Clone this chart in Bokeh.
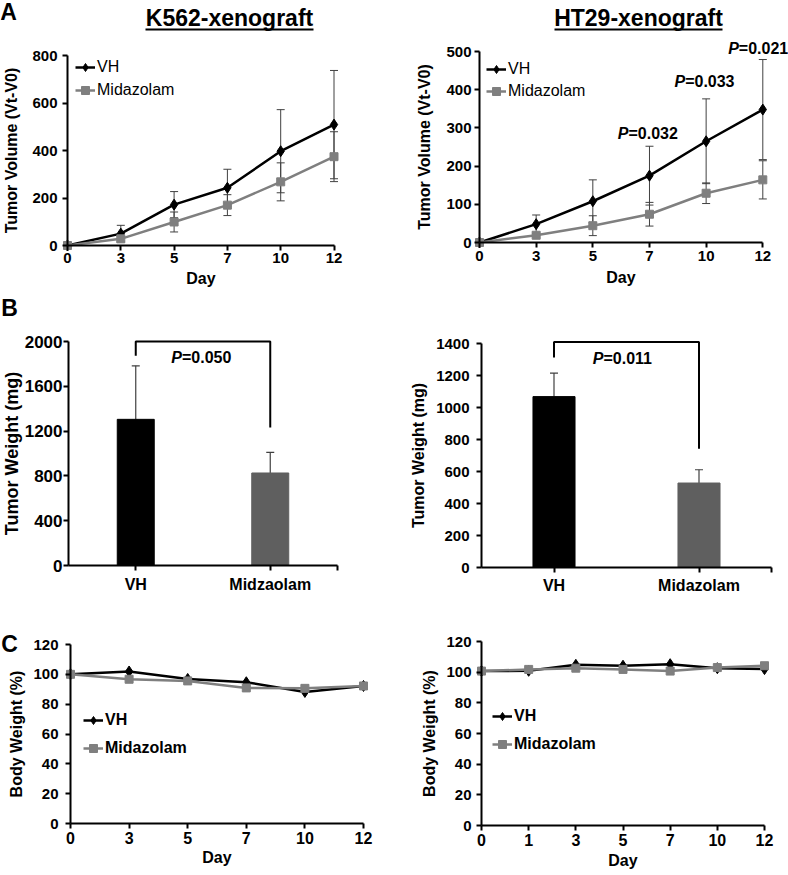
from bokeh.plotting import figure
from bokeh.models import (Range1d, FixedTicker, Legend, LegendItem,
                          Whisker, TeeHead, ColumnDataSource, Label, BoxAnnotation)
from bokeh.layouts import column, row
from bokeh.embed import file_html
from bokeh.resources import INLINE

# ---------------- data ----------------
days_tumor = [0, 3, 5, 7, 10, 12]
k562_vh = [0, 50, 172, 243, 397, 509]
k562_vh_err = [0, 35, 55, 78, 175, 228]
k562_mid = [0, 28, 99, 170, 268, 374]
k562_mid_err = [0, 10, 42, 44, 80, 105]

ht29_vh = [0, 48, 108, 175, 265, 348]
ht29_vh_err = [0, 24, 56, 77, 111, 131]
ht29_mid = [0, 19, 44, 74, 129, 164]
ht29_mid_err = [0, 5, 26, 31, 27, 50]
ht29_p_days = [7, 10, 12]
ht29_p_text = ["=0.032", "=0.033", "=0.021"]

groups_k562 = ["VH", "Midzaolam"]
weight_k562 = [1305, 826]
weight_k562_err = [478, 184]
p_k562_weight = "=0.050"

groups_ht29 = ["VH", "Midazolam"]
weight_ht29 = [1068, 528]
weight_ht29_err = [147, 83]
p_ht29_weight = "=0.011"

days_bw_k562 = [0, 3, 5, 7, 10, 12]
bw_k562_vh = [100, 101.9, 96.9, 94.7, 88.2, 92.2]
bw_k562_mid = [100, 96.7, 95.6, 90.9, 90.6, 92.2]

days_bw_ht29 = [0, 1, 3, 5, 7, 10, 12]
bw_ht29_vh = [100.7, 100.9, 104.8, 104.2, 105.2, 102.6, 102.0]
bw_ht29_mid = [100.7, 101.8, 102.6, 101.8, 100.7, 103.0, 104.2]

# ---------------- style ----------------
FONT = "Liberation Sans"
BLACK = "#000000"
GREY_LINE = "#7f7f7f"
GREY_BAR = "#5f5f5f"
ERR = "#404040"


def map_range(v0, p0, v1, p1, size):
    """Range whose values v0, v1 fall on canvas pixels p0, p1 of a frame `size` px long."""
    k = (p1 - p0) / (v1 - v0)
    a = v0 - p0 / k
    b = v0 + (size - p0) / k
    return Range1d(min(a, b), max(a, b))


def style_axis(ax, tick_size, label_size, label_standoff, axis_label_standoff):
    ax.axis_line_color = BLACK
    ax.axis_line_width = 2
    ax.major_tick_line_color = BLACK
    ax.major_tick_line_width = 2
    ax.major_tick_in = 0
    ax.major_tick_out = 5
    ax.minor_tick_line_color = None
    ax.major_label_text_font = FONT
    ax.major_label_text_font_style = "bold"
    ax.major_label_text_font_size = f"{tick_size}px"
    ax.major_label_text_color = BLACK
    ax.major_label_standoff = label_standoff
    ax.axis_label_text_font = FONT
    ax.axis_label_text_font_style = "bold"
    ax.axis_label_text_font_size = f"{label_size}px"
    ax.axis_label_text_color = BLACK
    ax.axis_label_standoff = axis_label_standoff


def make_fig(w, h, xr, yr):
    p = figure(width=w, height=h, x_range=xr, y_range=yr, output_backend="svg",
               toolbar_location=None, title=None,
               min_border_left=0, min_border_right=0, min_border_top=0, min_border_bottom=0,
               background_fill_color="white", border_fill_color="white")
    p.xgrid.visible = False
    p.ygrid.visible = False
    p.outline_line_color = None
    p.xaxis.fixed_location = 0
    p.yaxis.fixed_location = 0
    return p


def px_label(p, h, cx, cy, text, size, style="bold"):
    # cx, cy: canvas pixels from the figure's top-left
    p.add_layout(Label(x=cx, y=h - cy, x_units="screen", y_units="screen", text=text,
                       text_font=FONT, text_font_style=style,
                       text_font_size=f"{size}px", text_color=BLACK,
                       text_align="center", text_baseline="middle"))


def px_underline(p, h, left, right, cy):
    p.add_layout(BoxAnnotation(left=left, right=right, top=h - cy, bottom=h - cy - 2,
                               left_units="screen", right_units="screen",
                               top_units="screen", bottom_units="screen",
                               fill_color=BLACK, fill_alpha=1, line_color=None))


def p_label(p, x, y, text, xoff, size=16):
    p.add_layout(Label(x=x, y=y, text="P", text_font=FONT, text_font_style="bold italic",
                       text_font_size=f"{size}px", text_color=BLACK, text_align="right",
                       text_baseline="middle", x_offset=xoff))
    p.add_layout(Label(x=x, y=y, text=text, text_font=FONT, text_font_style="bold",
                       text_font_size=f"{size}px", text_color=BLACK, text_align="left",
                       text_baseline="middle", x_offset=xoff))


def line_panel(w, h, xmap, ymap, days, vh, mid, vh_err, mid_err, y_top, y_step,
               ylabel, xstand, ystand, legend_loc, legend_spacing, legend_style,
               xsize=(15, 16), ysize=(15, 16)):
    idx = list(range(len(days)))
    n = len(days) - 1
    p = make_fig(w, h, map_range(0, xmap[0], n, xmap[1], w),
                 map_range(0, ymap[0], y_top, ymap[1], h))
    style_axis(p.xaxis[0], xsize[0], xsize[1], xstand[0], xstand[1])
    style_axis(p.yaxis[0], ysize[0], ysize[1], ystand[0], ystand[1])
    p.xaxis.ticker = FixedTicker(ticks=idx)
    p.xaxis.major_label_overrides = {i: str(d) for i, d in zip(idx, days)}
    p.xaxis.bounds = (0, n)
    p.xaxis.axis_label = "Day"
    p.yaxis.ticker = FixedTicker(ticks=list(range(0, y_top + 1, y_step)))
    p.yaxis.bounds = (0, y_top)
    p.yaxis.axis_label = ylabel

    for vals, errs in ((vh, vh_err), (mid, mid_err)):
        if errs is None:
            continue
        keep = [i for i, e in zip(idx, errs) if e > 0]
        src = ColumnDataSource(dict(
            base=keep,
            upper=[vals[i] + errs[i] for i in keep],
            lower=[vals[i] - errs[i] for i in keep]))
        p.add_layout(Whisker(source=src, base="base", upper="upper", lower="lower",
                             line_color=ERR, line_width=1,
                             upper_head=TeeHead(size=8, line_color=ERR, line_width=1),
                             lower_head=TeeHead(size=8, line_color=ERR, line_width=1)))

    lv = p.line(idx, vh, line_color=BLACK, line_width=2.5)
    sv = p.scatter(idx, vh, marker="diamond", size=11, color=BLACK)
    lm = p.line(idx, mid, line_color=GREY_LINE, line_width=2.5)
    sm = p.scatter(idx, mid, marker="square", size=8, color=GREY_LINE)

    leg = Legend(items=[LegendItem(label="VH", renderers=[lv, sv]),
                        LegendItem(label="Midazolam", renderers=[lm, sm])],
                 location=legend_loc, padding=0, margin=0, spacing=legend_spacing,
                 glyph_width=20, glyph_height=20, label_height=20, label_standoff=2,
                 label_text_font=FONT, label_text_font_size="16px",
                 label_text_font_style=legend_style, label_text_color=BLACK,
                 border_line_color=None, background_fill_alpha=0)
    p.add_layout(leg)
    return p


def bar_panel(w, h, xmap, ymap, groups, vals, errs, y_top, y_step, bar_w,
              xsize, ysize, xstand, ystand, bracket_y, p_text, p_y, p_off):
    pos = [i + 0.5 for i in range(len(groups))]
    n = len(groups)
    p = make_fig(w, h, map_range(0, xmap[0], n, xmap[1], w),
                 map_range(0, ymap[0], y_top, ymap[1], h))
    style_axis(p.xaxis[0], xsize, xsize, xstand, 5)
    style_axis(p.yaxis[0], ysize[0], ysize[1], ystand[0], ystand[1])
    p.xaxis.ticker = FixedTicker(ticks=pos + [float(n)])
    overrides = {x: g for x, g in zip(pos, groups)}
    overrides[float(n)] = ""
    p.xaxis.major_label_overrides = overrides
    p.xaxis.bounds = (0, n)
    p.yaxis.ticker = FixedTicker(ticks=list(range(0, y_top + 1, y_step)))
    p.yaxis.bounds = (0, y_top)
    p.yaxis.axis_label = "Tumor Weight (mg)"

    src = ColumnDataSource(dict(x=pos, top=vals,
                                upper=[v + e for v, e in zip(vals, errs)],
                                color=[BLACK, GREY_BAR]))
    p.add_layout(Whisker(source=src, base="x", upper="upper", lower="top",
                         line_color=ERR, line_width=1.2,
                         upper_head=TeeHead(size=8, line_color=ERR, line_width=1.2),
                         lower_head=None))
    p.vbar(x="x", top="top", width=bar_w, fill_color="color", line_color="color", source=src)

    yl, yt, yr = bracket_y
    p.line(x=[pos[0], pos[0], pos[1], pos[1]], y=[yl, yt, yt, yr],
           line_color=BLACK, line_width=2)
    p_label(p, n / 2, p_y, p_text, p_off)
    return p


# ---------------- row A (291 px) ----------------
HA = 291
a1 = line_panel(394, HA, (67, 333.5), (245, 55), days_tumor, k562_vh, k562_mid,
                k562_vh_err, k562_mid_err, 800, 200,
                "Tumor Volume (Vt-V0)", (2, 4), (5, 9), (75, 191), 3, "normal")
px_label(a1, HA, 8, 11, "A", 23)
px_label(a1, HA, 229, 17, "K562-xenograft", 23)
px_underline(a1, HA, 145, 313, 28)

a2 = line_panel(394, HA, (85, 368.3), (242, 51), days_tumor, ht29_vh, ht29_mid,
                ht29_vh_err, ht29_mid_err, 500, 100,
                "Tumor Volume (Vt-V0)", (3, 5), (3, 10), (92, 190), 2, "normal")
px_label(a2, HA, 244, 17, "HT29-xenograft", 23)
px_underline(a2, HA, 160, 328, 28)
for d, t, yv, off in zip(ht29_p_days, ht29_p_text, [285, 421, 508], [-21, -21, -24]):
    p_label(a2, days_tumor.index(d), yv, t, off)

# ---------------- row B (304 px) ----------------
HB = 304
b1 = bar_panel(394, HB, (68, 337), (274, 50), groups_k562, weight_k562, weight_k562_err,
               2000, 400, 0.275, 16, (17, 18), 5, (1, 0), (1872, 2000, 1233),
               p_k562_weight, 1857, -21)
px_label(b1, HB, 9, 16, "B", 23)

b2 = bar_panel(394, HB, (87, 377), (276, 52), groups_ht29, weight_ht29, weight_ht29_err,
               1400, 200, 0.29, 16, (15, 16), 4, (7, 6), (1313, 1410, 742),
               p_ht29_weight, 1306, -23)

# ---------------- row C (280 px) ----------------
HC = 280
c1 = line_panel(394, HC, (70, 363), (228, 49), days_bw_k562, bw_k562_vh, bw_k562_mid,
                None, None, 120, 20,
                "Body Weight (%)", (3, 2), (7, 5), (83, 117), 8, "bold",
                xsize=(16, 16), ysize=(15, 16))
px_label(c1, HC, 9, 48, "C", 23)

c2 = line_panel(394, HC, (87, 370), (230, 46), days_bw_ht29, bw_ht29_vh, bw_ht29_mid,
                None, None, 120, 20,
                "Body Weight (%)", (3, 3), (5, 5), (98, 121), 8, "bold",
                xsize=(16, 16), ysize=(15, 16))

layout = column(row(a1, a2), row(b1, b2), row(c1, c2))

open("out.html", "w").write(file_html(layout, INLINE, title="Xenograft"))
